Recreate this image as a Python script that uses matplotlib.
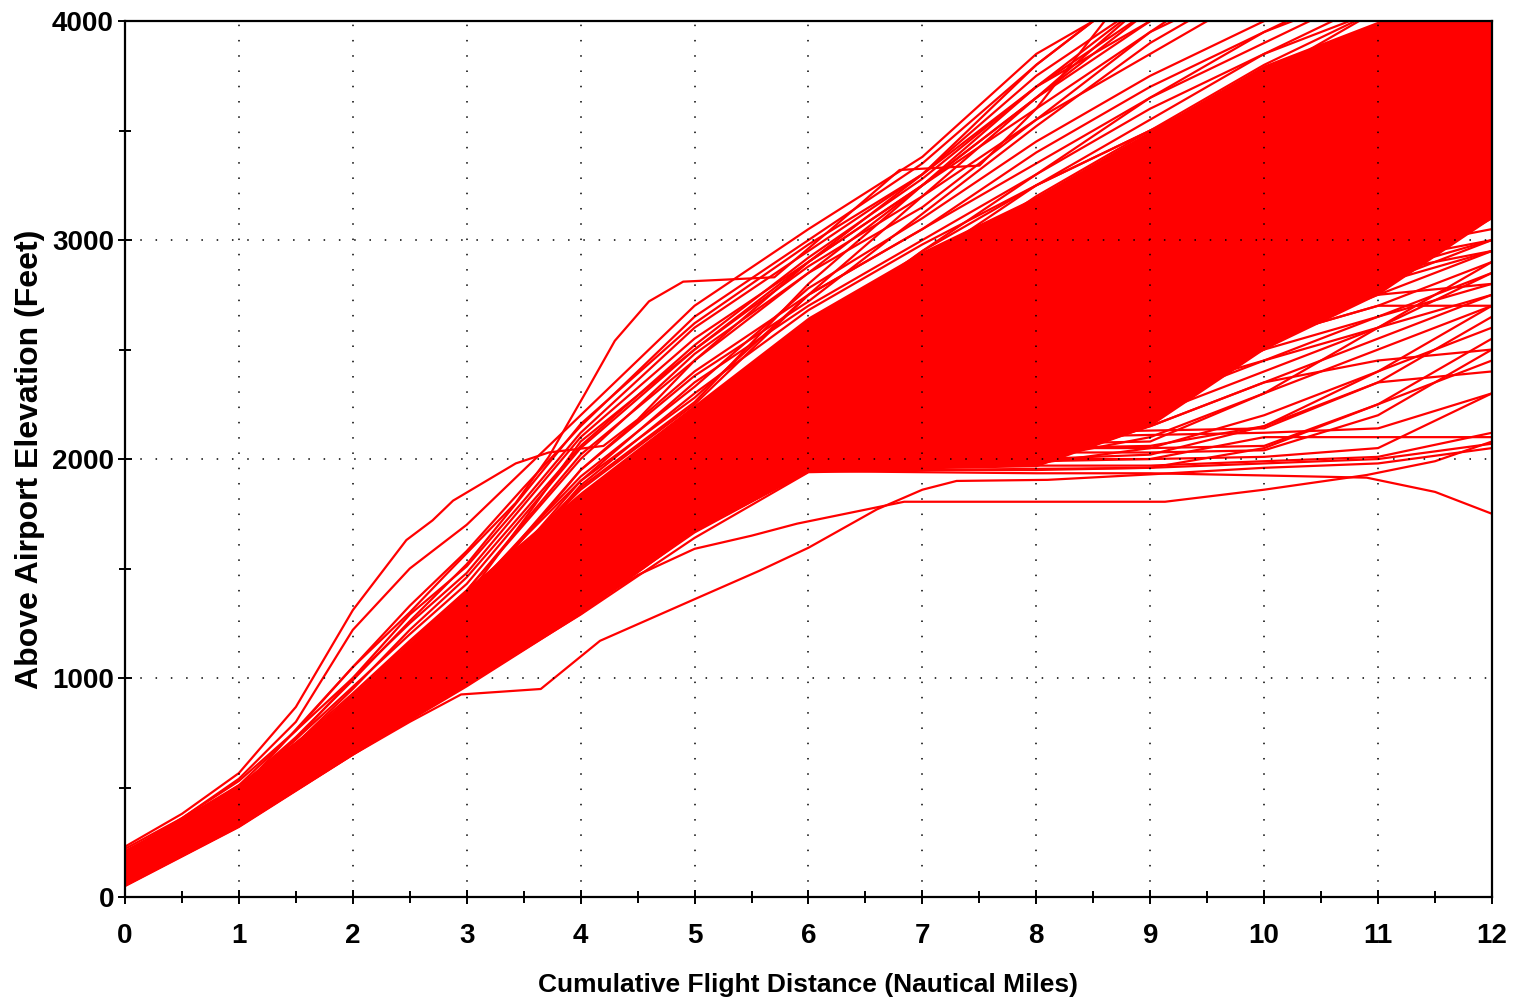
import matplotlib
matplotlib.use("Agg")
import matplotlib.pyplot as plt
from matplotlib.ticker import MultipleLocator

FONT = ['Liberation Sans', 'DejaVu Sans']

DIST = [0, 1, 2, 3, 4, 5, 6, 7, 8, 9, 10, 11, 12]

# densest part of the bundle, solid red in the source
CORE_LO = [50, 320, 650, 960, 1290, 1670, 1940, 1955, 1965, 2150, 2500, 2750, 3100]
CORE_HI = [210, 520, 910, 1410, 1850, 2250, 2650, 2950, 3200, 3500, 3800, 4000, 4000]

# tracks levelling off near 2000 ft, then climbing late
LEVEL_TRACKS = [
    [50, 320, 650, 970, 1290, 1640, 1940, 1950, 1950, 1960, 1980, 2000, 2070],
    [60, 330, 660, 990, 1320, 1680, 1960, 1970, 1970, 1970, 1990, 2010, 2120],
    [70, 340, 680, 1010, 1350, 1710, 1980, 2000, 2000, 2000, 2010, 2050, 2300],
    [80, 350, 690, 1030, 1380, 1740, 2000, 2020, 2030, 2030, 2040, 2200, 2500],
    [90, 360, 700, 1040, 1400, 1770, 2020, 2050, 2050, 2060, 2150, 2400, 2700],
    [75, 345, 700, 1060, 1420, 1800, 2040, 2060, 2070, 2080, 2300, 2600, 2900],
    [100, 370, 720, 1080, 1450, 1830, 2060, 2080, 2090, 2250, 2500, 2800, 3100],
    [85, 355, 710, 1070, 1440, 1850, 2080, 2100, 2100, 2110, 2120, 2140, 2300],
    [110, 380, 730, 1090, 1460, 1850, 2050, 2060, 2080, 2400, 2700, 3000, 3300],
    [65, 335, 670, 1000, 1340, 1700, 1950, 1960, 2000, 2100, 2300, 2500, 2700],
    [95, 365, 715, 1075, 1430, 1790, 2000, 2010, 2200, 2450, 2700, 2950, 3200],
    [55, 330, 665, 995, 1330, 1690, 1970, 2040, 2050, 2050, 2060, 2250, 2550],
    [120, 390, 740, 1100, 1470, 1860, 2100, 2150, 2200, 2350, 2500, 2650, 2800],
    [70, 340, 675, 1020, 1370, 1730, 1990, 1990, 1990, 2000, 2100, 2100, 2100],
    [105, 375, 725, 1085, 1455, 1840, 2090, 2200, 2300, 2400, 2550, 2700, 2700],
    [60, 335, 670, 1005, 1350, 1720, 1960, 1970, 1980, 2150, 2350, 2450, 2500],
    [90, 360, 705, 1065, 1435, 1820, 2070, 2120, 2120, 2130, 2140, 2350, 2650],
    [70, 345, 690, 1030, 1370, 1740, 1990, 2000, 2050, 2200, 2400, 2600, 2850],
    [80, 355, 700, 1045, 1395, 1770, 2010, 2100, 2250, 2400, 2600, 2800, 3000],
    [100, 375, 720, 1070, 1430, 1810, 2050, 2150, 2300, 2500, 2750, 2950, 3150],
    [60, 330, 665, 1000, 1340, 1700, 1955, 1965, 1980, 2050, 2200, 2400, 2600],
    [85, 360, 705, 1055, 1410, 1790, 2030, 2070, 2150, 2300, 2450, 2600, 2750],
    [115, 385, 735, 1095, 1465, 1850, 2100, 2250, 2400, 2550, 2700, 2850, 3000],
    [75, 350, 695, 1040, 1390, 1760, 2000, 2030, 2040, 2150, 2350, 2550, 2750],
    [95, 370, 715, 1070, 1440, 1820, 2060, 2100, 2180, 2350, 2550, 2750, 2950],
    [65, 340, 680, 1015, 1355, 1720, 1970, 1980, 2000, 2020, 2150, 2350, 2400],
    [105, 380, 730, 1085, 1450, 1830, 2080, 2200, 2350, 2500, 2650, 2800, 2950],
    [55, 325, 655, 985, 1315, 1670, 1945, 1950, 1955, 1960, 2050, 2250, 2450],
    [90, 365, 710, 1060, 1420, 1800, 2040, 2080, 2100, 2250, 2450, 2650, 2850],
    [110, 380, 730, 1090, 1460, 1850, 2120, 2300, 2450, 2600, 2700, 2750, 2800],
]

# tracks in the middle of the bundle
MAIN_TRACKS = [
    [60, 350, 700, 1060, 1450, 1870, 2250, 2500, 2700, 2850, 2950, 3050, 3150],
    [80, 370, 730, 1100, 1500, 1900, 2300, 2600, 2850, 3050, 3250, 3450, 3650],
    [100, 390, 750, 1130, 1530, 1950, 2350, 2700, 3000, 3250, 3500, 3700, 3900],
    [120, 400, 770, 1150, 1560, 1980, 2300, 2550, 2750, 2900, 3000, 3100, 3200],
    [130, 410, 780, 1170, 1590, 2010, 2400, 2750, 3050, 3300, 3550, 3800, 4050],
    [140, 420, 790, 1180, 1600, 2030, 2450, 2800, 3150, 3450, 3750, 4050, 4300],
    [150, 430, 800, 1200, 1620, 2060, 2400, 2650, 2850, 3000, 3100, 3200, 3300],
    [90, 380, 760, 1160, 1580, 2000, 2350, 2600, 2800, 2950, 3100, 3300, 3500],
    [110, 400, 780, 1180, 1610, 2040, 2420, 2700, 2950, 3150, 3350, 3500, 3650],
    [170, 450, 820, 1220, 1650, 2080, 2480, 2850, 3200, 3500, 3800, 4050, 4300],
    [120, 410, 790, 1200, 1640, 2080, 2450, 2750, 3000, 3200, 3400, 3550, 3700],
    [160, 440, 810, 1210, 1630, 2050, 2350, 2500, 2600, 2700, 2800, 2900, 3000],
    [70, 360, 720, 1090, 1480, 1880, 2200, 2400, 2550, 2650, 2750, 2850, 2950],
    [95, 385, 745, 1120, 1520, 1930, 2280, 2500, 2650, 2800, 2900, 3000, 3100],
    [180, 460, 830, 1240, 1680, 2120, 2520, 2900, 3250, 3550, 3850, 4100, 4300],
    [140, 430, 810, 1220, 1660, 2100, 2500, 2850, 3150, 3400, 3600, 3800, 3950],
    [105, 395, 765, 1150, 1560, 1960, 2250, 2450, 2600, 2750, 2850, 2950, 3050],
    [125, 415, 790, 1190, 1610, 2030, 2330, 2550, 2700, 2850, 3000, 3150, 3300],
    [155, 445, 820, 1230, 1670, 2100, 2450, 2700, 2900, 3100, 3300, 3450, 3600],
    [85, 375, 740, 1120, 1530, 1950, 2300, 2550, 2750, 2900, 3050, 3200, 3350],
    [190, 470, 850, 1260, 1700, 2150, 2550, 2950, 3300, 3650, 3950, 4200, 4400],
    [130, 420, 800, 1200, 1620, 2040, 2380, 2620, 2800, 2950, 3100, 3250, 3400],
    [200, 480, 870, 1290, 1730, 2170, 2580, 2950, 3250, 3500, 3700, 3850, 4000],
    [60, 345, 705, 1080, 1480, 1890, 2150, 2300, 2400, 2450, 2550, 2700, 2900],
]

# steep climbers on the upper edge, finer spacing near the runway
STEEP_DIST = [0, 0.5, 1, 1.5, 2, 2.5, 3, 3.5, 4, 5, 6, 7, 8, 9, 10, 11, 12]
STEEP_TRACKS = [
    [200, 360, 540, 800, 1220, 1500, 1700, 1950, 2200, 2700, 3050, 3380, 3850, 4150, 4400, 4600, 4800],
    [190, 340, 510, 760, 1050, 1330, 1580, 1870, 2150, 2650, 3000, 3350, 3800, 4200, 4500, 4700, 4900],
    [170, 320, 490, 720, 1000, 1290, 1510, 1810, 2120, 2600, 2950, 3300, 3700, 4000, 4250, 4500, 4700],
    [220, 360, 530, 760, 1000, 1250, 1480, 1790, 2100, 2550, 2900, 3250, 3650, 4000, 4300, 4500, 4700],
    [180, 330, 500, 720, 960, 1200, 1430, 1740, 2050, 2500, 2880, 3200, 3550, 3850, 4150, 4400, 4600],
    [160, 310, 470, 680, 920, 1160, 1400, 1700, 2000, 2480, 2850, 3150, 3550, 3950, 4300, 4500, 4700],
    [210, 350, 500, 700, 930, 1170, 1400, 1710, 2020, 2450, 2850, 3250, 3650, 4050, 4300, 4500, 4700],
    [150, 300, 460, 660, 880, 1110, 1340, 1650, 1950, 2400, 2750, 3050, 3350, 3650, 3900, 4150, 4400],
    [140, 290, 450, 650, 860, 1080, 1300, 1600, 1900, 2350, 2700, 3000, 3300, 3600, 3850, 4050, 4250],
    [190, 330, 480, 680, 900, 1130, 1370, 1650, 1920, 2330, 2780, 3100, 3450, 3750, 4000, 4200, 4400],
    [130, 280, 440, 630, 840, 1060, 1280, 1580, 1880, 2300, 2680, 2980, 3250, 3500, 3750, 3950, 4150],
    [170, 320, 480, 690, 920, 1150, 1380, 1640, 1900, 2280, 2750, 3050, 3400, 3700, 3950, 4150, 4350],
    [200, 340, 490, 690, 910, 1140, 1360, 1610, 1870, 2260, 2800, 3250, 3700, 4100, 4400, 4600, 4800],
    [160, 300, 460, 660, 880, 1120, 1350, 1600, 1860, 2250, 2750, 3200, 3650, 4100, 4400, 4600, 4800],
    [180, 320, 470, 670, 890, 1130, 1370, 1720, 2080, 2500, 2900, 3300, 3800, 4200, 4500, 4700, 4900],
    [150, 290, 450, 650, 870, 1100, 1330, 1640, 1950, 2380, 2720, 3120, 3520, 3900, 4200, 4400, 4600],
    [180, 330, 500, 730, 990, 1260, 1520, 1840, 2160, 2620, 2980, 3300, 3750, 4100, 4400, 4600, 4800],
    [170, 320, 480, 700, 950, 1220, 1460, 1760, 2060, 2520, 2920, 3280, 3700, 4050, 4300, 4500, 4700],
]

# odd tracks that need their own distance points
PLATEAU_X = [0, 1, 2, 2.5, 2.85, 3.43, 3.72, 4.04, 4.3, 4.6, 4.9, 5.7, 6.2, 6.8, 7.5, 8.0, 8.6, 9.0]
PLATEAU_Y = [170, 480, 1050, 1300, 1490, 1800, 2010, 2300, 2540, 2720, 2810, 2830, 3050, 3320, 3340, 3600, 4000, 4200]

KNEE_X = [0, 0.5, 1, 1.5, 2, 2.47, 2.7, 2.88, 3.43, 3.72, 4.2, 4.5, 5, 6, 7, 8, 9, 10]
KNEE_Y = [230, 380, 566, 868, 1310, 1630, 1720, 1810, 1980, 2030, 2060, 2180, 2450, 2900, 3250, 3600, 3950, 4200]

DIP_X = [0, 1, 2, 2.5, 2.95, 3.65, 4.17, 5, 5.57, 6, 6.6, 7, 7.3, 8.1, 9, 10, 11, 12]
DIP_Y = [55, 325, 650, 800, 925, 950, 1170, 1360, 1490, 1595, 1770, 1860, 1900, 1905, 1930, 1960, 1980, 2050]

SHELF_X = [0, 1, 2, 3, 4, 4.5, 5, 5.5, 5.9, 6.84, 9.13, 10, 10.9, 11.5, 12]
SHELF_Y = [65, 335, 665, 990, 1310, 1470, 1590, 1650, 1705, 1805, 1805, 1860, 1927, 1990, 2080]

SINK_X = [0, 1, 2, 3, 4, 5, 6, 7, 8, 9, 10, 10.9, 11.5, 12]
SINK_Y = [58, 328, 658, 985, 1305, 1665, 1945, 1940, 1935, 1935, 1925, 1915, 1850, 1750]

X_TICKS = list(range(0, 13))
Y_TICKS = [0, 1000, 2000, 3000, 4000]

RED = '#ff0000'
LW = 1.6

fig = plt.figure(figsize=(15.17, 10.07), dpi=100)
ax = fig.add_axes([0.0824, 0.1092, 0.9011, 0.8699])

ax.fill_between(DIST, CORE_LO, CORE_HI, color=RED, lw=0)
for track in LEVEL_TRACKS + MAIN_TRACKS:
    ax.plot(DIST, track, color=RED, lw=LW)
for track in STEEP_TRACKS:
    ax.plot(STEEP_DIST, track, color=RED, lw=LW)
for xs, ys in [(PLATEAU_X, PLATEAU_Y), (KNEE_X, KNEE_Y), (DIP_X, DIP_Y),
               (SHELF_X, SHELF_Y), (SINK_X, SINK_Y)]:
    ax.plot(xs, ys, color=RED, lw=LW)

ax.set_xlim(0, 12)
ax.set_ylim(0, 4000)
ax.set_xticks(X_TICKS)
ax.set_yticks(Y_TICKS)
ax.xaxis.set_minor_locator(MultipleLocator(0.5))
ax.yaxis.set_minor_locator(MultipleLocator(500))
ax.tick_params(which='major', direction='inout', length=10, width=1.4, color='black')
ax.tick_params(which='minor', direction='inout', length=8, width=1.4, color='black')
ax.tick_params(axis='x', which='major', pad=14)
ax.tick_params(axis='y', which='major', pad=3)
for lab in ax.get_xticklabels() + ax.get_yticklabels():
    lab.set_family(FONT)
    lab.set_fontweight('bold')
    lab.set_fontsize(20)

for s in ax.spines.values():
    s.set_linewidth(1.6)

ax.set_axisbelow(False)
ax.grid(True, which='major', color='black', linestyle=(0, (1, 9)), lw=1.1)

ax.set_xlabel('Cumulative Flight Distance (Nautical Miles)', family=FONT,
              fontweight='bold', fontsize=19, labelpad=17)
ax.set_ylabel('Above Airport Elevation (Feet)', family=FONT,
              fontweight='bold', fontsize=23, labelpad=5)

fig.savefig('out.png', dpi=100)
